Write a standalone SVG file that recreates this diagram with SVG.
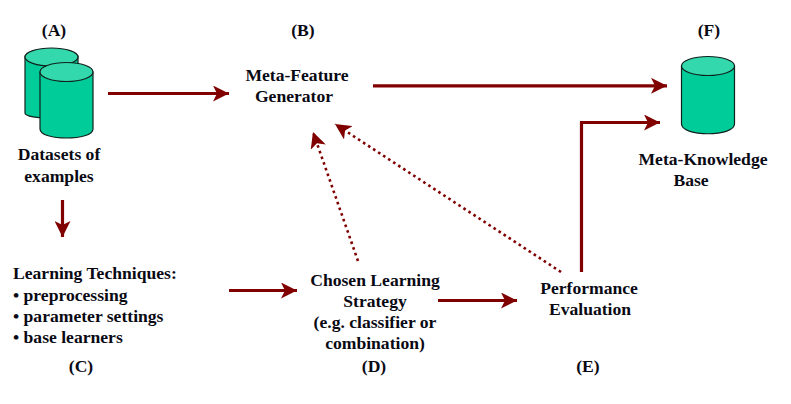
<svg xmlns="http://www.w3.org/2000/svg" width="791" height="404" viewBox="0 0 791 404">
<defs>
<marker id="arrow" markerUnits="userSpaceOnUse" markerWidth="16" markerHeight="16" refX="14" refY="7" viewBox="0 0 14 14" orient="auto"><path d="M0 0L14 7L0 14L3.500 7Z" fill="#800000"/></marker>
</defs>
<style>
text{font-family:"Liberation Serif","Times New Roman",serif;font-weight:bold;font-size:17.6px;fill:#0a0a14;text-anchor:middle}
.l{text-anchor:start}
.c{fill:none;stroke:#800000;stroke-width:3.200;marker-end:url(#arrow)}
.d{fill:none;stroke:#800000;stroke-width:2.600;stroke-dasharray:2.600 3.400;marker-end:url(#arrow)}
.b{fill:#00cc99;stroke:#10201c;stroke-width:1.200}
.t{fill:#33d9ad;stroke:#10201c;stroke-width:1.200}
</style>
<rect width="791" height="404" fill="#fff"/>
<g id="connectors">
<path class="c" d="M108 93.500H229"/>
<path class="c" d="M373 85.800H667"/>
<path class="c" d="M581.500 272V122.500H660"/>
<path class="c" d="M62.500 200V237"/>
<path class="c" d="M229 290.500H297"/>
<path class="c" d="M438 300.500H517"/>
<path class="d" d="M358 261L313 132"/>
<path class="d" d="M561 272L335 124"/>
</g>
<g id="node-a">
<path class="b" d="M25 56V113C25 120 77 120 78 113V56Z"/>
<ellipse class="t" cx="51.500" cy="57" rx="26.500" ry="9"/>
<path class="b" d="M40 72V129C40 141 93 141 93 129V72Z"/>
<ellipse class="t" cx="66.500" cy="72" rx="26.500" ry="9.500"/>
<text x="54" y="36">(A)</text>
<text x="59" y="160">Datasets of</text>
<text x="59" y="182">examples</text>
</g>
<g id="node-b">
<text x="303" y="36">(B)</text>
<text x="297" y="81">Meta-Feature</text>
<text x="294" y="102">Generator</text>
</g>
<g id="node-c">
<text class="l" x="13" y="279">Learning Techniques:</text>
<text class="l" x="13" y="301">• preprocessing</text>
<text class="l" x="13" y="322">• parameter settings</text>
<text class="l" x="13" y="343">• base learners</text>
<text x="81" y="372">(C)</text>
</g>
<g id="node-d">
<text x="375" y="286">Chosen Learning</text>
<text x="375" y="307">Strategy</text>
<text x="375" y="328">(e.g. classifier or</text>
<text x="375" y="349">combination)</text>
<text x="374" y="372">(D)</text>
</g>
<g id="node-e">
<text x="589" y="294">Performance</text>
<text x="590" y="315">Evaluation</text>
<text x="588" y="372">(E)</text>
</g>
<g id="node-f">
<path class="b" d="M681.500 66V124C681.500 137 734.500 137 734.500 124V66Z"/>
<ellipse class="t" cx="708" cy="66" rx="26.500" ry="9.500"/>
<text x="709" y="36">(F)</text>
<text x="703" y="165">Meta-Knowledge</text>
<text x="691" y="186">Base</text>
</g>
</svg>
